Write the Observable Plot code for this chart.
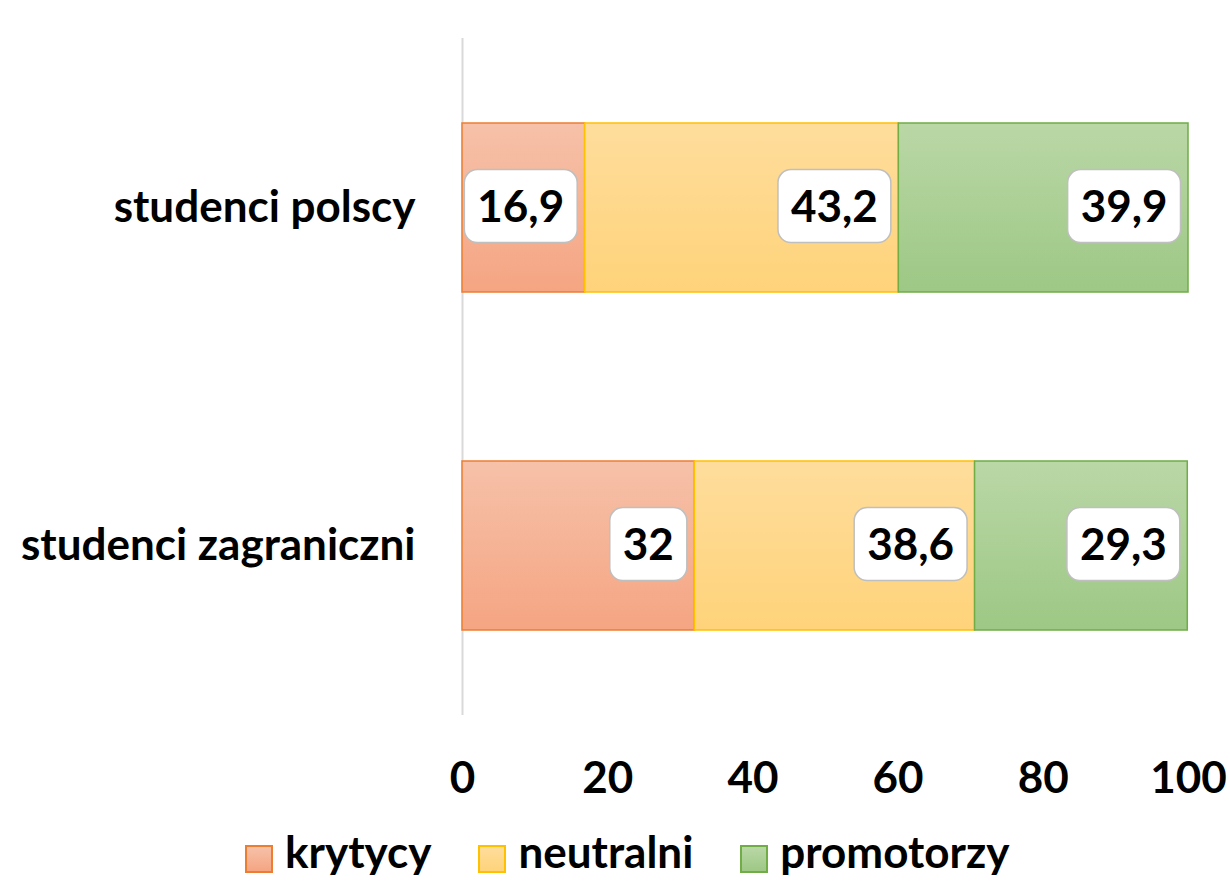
<!DOCTYPE html>
<html>
<head>
<meta charset="utf-8">
<script src="https://cdn.jsdelivr.net/npm/d3@7"></script>
<script src="https://cdn.jsdelivr.net/npm/@observablehq/plot@0.6"></script>
<style>
  html, body { margin: 0; padding: 0; background: #fff; }
  #chart { width: 1230px; }
  .legend { display: flex; justify-content: flex-start; align-items: flex-start; height: 61px; box-sizing: border-box; padding-left: 245px; padding-top: 25px; font-family: Lato, sans-serif; font-weight: 700; font-size: 44px; line-height: 28px; color: #000; }
  .legend .item { display: flex; align-items: center; margin-right: 47px; height: 28px; }
  .legend .sw { width: 28px; height: 28px; margin-right: 12px; box-sizing: border-box; border: 2.5px solid; flex: none; }
  .legend .lab { position: relative; top: -8px; }
</style>
</head>
<body>
<div id="chart"></div>
<script>
const groups = ["studenci polscy", "studenci zagraniczni"];
const categories = ["krytycy", "neutralni", "promotorzy"];
const polscy = [16.9, 43.2, 39.9];
const zagraniczni = [32, 38.6, 29.3];
const xTicks = [0, 20, 40, 60, 80, 100];
const strokeColors = ["#ED7D31", "#FFC000", "#70AD47"];
const gradTop = ["#F6C1A9", "#FEDD9C", "#BAD7A6"];
const gradBottom = ["#F5A582", "#FED37A", "#9DC885"];

const data = [];
[polscy, zagraniczni].forEach((vals, gi) => {
  vals.forEach((v, ci) => data.push({group: groups[gi], cat: categories[ci], ci, value: v}));
});

const fmt = v => String(v).replace(".", ",");

const defsMark = () => {
  const defs = d3.create("svg:defs");
  categories.forEach((c, i) => {
    const g = defs.append("linearGradient").attr("id", "grad" + i)
      .attr("x1", 0).attr("y1", 0).attr("x2", 0).attr("y2", 1);
    g.append("stop").attr("offset", "0%").attr("stop-color", gradTop[i]);
    g.append("stop").attr("offset", "100%").attr("stop-color", gradBottom[i]);
  });
  return defs.node();
};

const chart = Plot.plot({
  width: 1230,
  height: 820,
  marginLeft: 462,
  marginRight: 42,
  marginTop: 38,
  marginBottom: 105,
  style: {fontFamily: "Lato, sans-serif", fontSize: "44px", fontWeight: "700", color: "#000", background: "#fff"},
  x: {domain: [0, 100], ticks: xTicks, tickSize: 0, tickPadding: 46, label: null, tickFormat: d => String(d)},
  y: {domain: groups, paddingInner: 0.5, paddingOuter: 0.25, tickSize: 0, tickPadding: 47, label: null},
  marks: [
    defsMark,
    Plot.ruleX([0], {stroke: "#D9D9D9", strokeWidth: 2}),
    Plot.barX(data, Plot.stackX({
      x: "value", y: "group", z: "cat", order: categories,
      fill: {value: d => "url(#grad" + d.ci + ")", scale: null},
      stroke: {value: d => strokeColors[d.ci], scale: null},
      strokeWidth: 1.5
    })),
    Plot.text(data, Plot.stackX2({
      x: "value", y: "group", z: "cat", order: categories,
      text: d => fmt(d.value), textAnchor: "end", dx: -21,
      fill: "#000", fontSize: 44, fontWeight: "bold"
    }))
  ]
});

document.getElementById("chart").appendChild(chart);

// white rounded boxes behind the value labels
chart.querySelectorAll('g[aria-label="text"]').forEach(labelGroup => {
  labelGroup.querySelectorAll("text").forEach(t => {
    const b = t.getBBox();
    const tr = t.getAttribute("transform");
    const r = document.createElementNS("http://www.w3.org/2000/svg", "rect");
    const cy = b.y + b.height / 2 + 1;
    r.setAttribute("x", b.x - 13);
    r.setAttribute("width", b.width + 26);
    r.setAttribute("y", cy - 36.5);
    r.setAttribute("height", 73);
    r.setAttribute("rx", 13);
    r.setAttribute("fill", "#fff");
    r.setAttribute("stroke", "#BFBFBF");
    r.setAttribute("stroke-width", 1.5);
    if (tr) r.setAttribute("transform", tr);
    t.parentNode.insertBefore(r, t);
  });
});

// legend built from the same arrays
const legend = document.createElement("div");
legend.className = "legend";
categories.forEach((c, i) => {
  const item = document.createElement("div");
  item.className = "item";
  const sw = document.createElement("span");
  sw.className = "sw";
  sw.style.background = `linear-gradient(${gradTop[i]}, ${gradBottom[i]})`;
  sw.style.borderColor = strokeColors[i];
  const lab = document.createElement("span");
  lab.className = "lab";
  lab.textContent = c;
  item.appendChild(sw);
  item.appendChild(lab);
  legend.appendChild(item);
});
document.getElementById("chart").appendChild(legend);
</script>
</body>
</html>
